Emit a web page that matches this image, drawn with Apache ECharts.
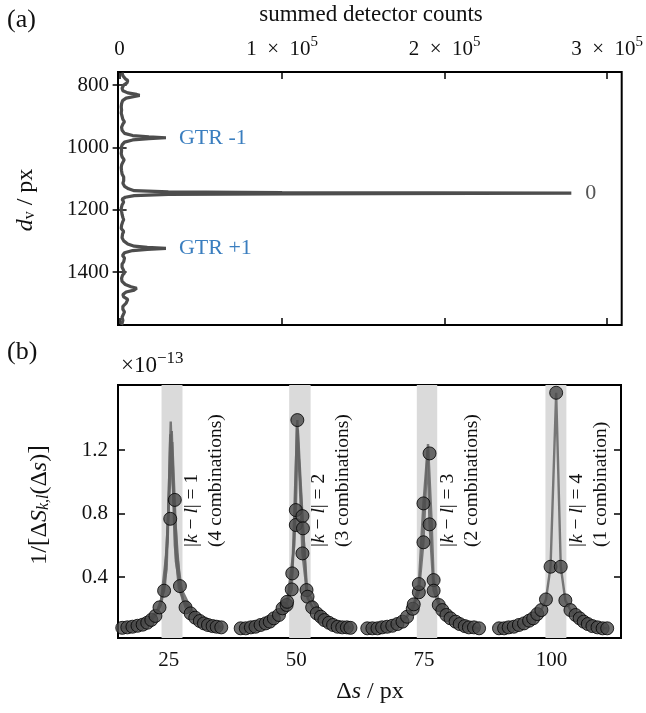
<!DOCTYPE html>
<html><head><meta charset="utf-8">
<script src="https://cdn.jsdelivr.net/npm/echarts@6/dist/echarts.min.js"></script>
<style>html,body{margin:0;padding:0;background:#fff}#c{width:646px;height:713px}</style>
</head><body><div id="c"></div>
<script>
const FONT = '"Liberation Serif", "DejaVu Serif", serif';
const INK = '#000';
const CURVE = '#4d4d4d';
const BLUE = '#3a7ebf';

// ---------- panel (a) ----------
const dvPixels = [
  760,770,780,785,789,793,800,810,818,825,
  830,833,836,842,850,860,870,880,890,900,
  910,918,925,935,945,955,962,966,969,972,
  976,983,992,1000,1010,1020,1030,1040,1046,1055,
  1065,1075,1085,1095,1101,1107,1115,1125,1133,1139,
  1143,1145,1147,1149,1151,1155,1160,1166,1175,1185,
  1195,1205,1215,1225,1232,1240,1250,1260,1270,1278,
  1290,1300,1310,1317,1321,1324,1327,1331,1338,1347,
  1355,1361,1367,1375,1385,1395,1403,1410,1420,1430,
  1440,1447,1452,1455,1458,1464,1472,1480,1488,1494,
  1500,1510,1520,1528,1534,1545,1555,1565,1570];
const summedCounts = [
  1500,2000,3500,5000,6000,4500,2500,1500,2000,5000,
  10500,12300,10000,4000,1800,1200,1000,1200,1000,1500,
  2000,3000,2000,1200,1500,3000,8000,18000,28500,18000,
  8000,3000,1500,1000,1200,1000,1500,2800,2500,1300,
  1000,1200,1500,2500,3200,2500,2000,3000,5500,9000,
  30000,100000,278000,100000,30000,9000,3500,1500,2500,1500,
  1000,1200,1500,2000,2500,1800,1200,1000,2500,1800,
  1500,2500,5000,9000,17000,28500,17000,8000,3000,1800,
  3000,4000,2500,1500,1500,2500,3000,1800,1200,1500,
  3500,7000,10500,11000,9000,4000,2000,2500,5000,6000,
  4000,2000,2000,3000,2500,1500,2000,1500,1200];
const countTicks = [0, 100000, 200000, 300000];
const dvTicks = [800, 1000, 1200, 1400];
const peakNames = ['GTR -1', '0', 'GTR +1'];
const peakCounts = [28500, 278000, 28500];
const peakDv = [969, 1147, 1324];

// ---------- panel (b) (values in units of 1e-13) ----------
const dsTicks = [25, 50, 75, 100];
const invTicks = [0.4, 0.8, 1.2];
const bandRanges = [[23.6, 27.7], [48.6, 52.8], [73.6, 77.6], [98.8, 102.9]];
const groupNames = ['1', '2', '3', '4'];
const groupCombos = ['(4 combinations)', '(3 combinations)', '(2 combinations)', '(1 combination)'];
const groupNoteDs = [31.9, 56.8, 82.1, 107.4];

const g1Ds  = [15.9,16.9,17.9,18.9,19.9,20.8,21.6,22.4,23.2,24.1,25.3,26.2,27.2,28.3,29.3,30.2,31.1,31.9,32.7,33.6,34.4,35.3];
const g1Val = [0.080,0.083,0.087,0.093,0.100,0.112,0.130,0.155,0.209,0.314,0.767,0.886,0.343,0.209,0.171,0.144,0.123,0.108,0.098,0.091,0.087,0.083];
const g2Ds  = [39.1,40.1,41.1,42.0,43.0,44.0,44.8,45.6,46.6,47.3,48.1,48.2,49.1,49.2,49.9,49.9,50.2,51.2,51.3,51.2,52.0,52.2,53.1,54.0,54.8,55.5,56.4,57.2,58.1,59.0,59.9,60.6];
const g2Val = [0.077,0.077,0.083,0.087,0.098,0.108,0.119,0.140,0.161,0.203,0.224,0.244,0.322,0.423,0.822,0.728,1.389,0.784,0.707,0.549,0.318,0.276,0.209,0.171,0.150,0.129,0.112,0.098,0.087,0.083,0.083,0.080];
const g3Ds  = [63.9,64.9,65.9,66.8,67.8,68.8,69.8,70.8,71.7,72.8,73.0,74.0,74.0,74.9,74.9,76.1,76.1,76.9,76.9,77.9,78.6,79.4,80.2,81.2,82.0,83.0,83.8,84.8,85.8];
const g3Val = [0.077,0.077,0.077,0.083,0.087,0.093,0.104,0.119,0.150,0.200,0.228,0.304,0.356,0.619,0.864,1.179,0.732,0.381,0.314,0.224,0.192,0.161,0.140,0.119,0.104,0.091,0.083,0.083,0.077];
const g4Ds  = [89.7,90.7,91.6,92.6,93.6,94.6,95.6,96.4,97.2,98.0,98.9,99.8,100.9,101.8,102.7,103.7,104.7,105.5,106.3,107.1,108.0,109.0,110.0,110.9];
const g4Val = [0.077,0.077,0.083,0.087,0.098,0.108,0.125,0.140,0.167,0.192,0.259,0.465,1.561,0.465,0.253,0.192,0.161,0.140,0.119,0.104,0.091,0.083,0.077,0.077];

// individual combination curves
const comboCurves = [
  [[15.9,.080],[19.9,.100],[22.4,.155],[23.6,.240],[24.6,.450],[25.4,1.38],[26.2,.600],[27.0,.330],[28.3,.209],[31.1,.123],[35.3,.083]],
  [[15.9,.080],[20.8,.112],[23.2,.209],[24.3,.360],[25.6,1.32],[26.4,.500],[27.4,.300],[29.3,.171],[32.7,.098],[35.3,.083]],
  [[15.9,.080],[21.6,.130],[23.4,.220],[24.8,.620],[25.3,1.30],[26.0,.880],[27.2,.343],[30.2,.144],[35.3,.083]],
  [[15.9,.080],[22.4,.155],[24.1,.314],[25.7,1.25],[26.6,.550],[27.8,.250],[31.9,.108],[35.3,.083]],
  [[39.1,.077],[44.0,.108],[47.3,.203],[48.2,.244],[49.1,.322],[50.2,1.389],[51.2,.549],[52.2,.266],[54.0,.171],[57.2,.098],[60.6,.080]],
  [[39.1,.077],[45.6,.140],[48.1,.224],[49.2,.423],[49.9,.822],[50.3,1.33],[51.2,.784],[52.0,.318],[55.5,.129],[60.6,.080]],
  [[39.1,.077],[46.6,.161],[48.2,.244],[49.6,.600],[50.1,1.36],[51.3,.707],[52.2,.276],[53.1,.209],[58.1,.087],[60.6,.080]],
  [[63.9,.077],[67.8,.087],[70.8,.119],[72.0,.170],[73.0,.228],[74.0,.356],[74.9,.864],[75.8,1.238],[76.5,.750],[76.9,.381],[78.1,.224],[80.2,.140],[83.0,.091],[85.8,.077]],
  [[63.9,.077],[68.8,.093],[71.7,.150],[72.8,.200],[74.0,.304],[74.9,.619],[75.7,1.200],[76.1,.732],[76.9,.314],[77.9,.224],[79.4,.161],[82.0,.104],[85.8,.077]]
];

// ---------- helpers ----------
function tickAxis(cfg) {
  return Object.assign({
    type: 'value', scale: true,
    axisLine: { show: false },
    splitLine: { show: false },
    axisTick: { show: true, inside: true, length: 7, lineStyle: { color: INK, width: 1.5 }, customValues: cfg.ticks },
    axisLabel: cfg.labels ? {
      show: true, customValues: cfg.ticks, fontFamily: FONT, fontSize: 21, color: '#111',
      margin: cfg.margin || 10, formatter: cfg.formatter, rich: cfg.rich
    } : { show: false }
  }, cfg.extra);
}

const sup = { fontFamily: FONT, fontSize: 15, lineHeight: 15, padding: [0, 0, 10, 0], verticalAlign: 'bottom', color: '#111' };
const base = { fontFamily: FONT, fontSize: 21, lineHeight: 25, verticalAlign: 'bottom', color: '#111' };

const pts = [];
[[g1Ds, g1Val], [g2Ds, g2Val], [g3Ds, g3Val], [g4Ds, g4Val]].forEach(function (g) {
  g[0].forEach(function (x, i) { pts.push([x, g[1][i]]); });
});
const g4Curve = g4Ds.map(function (x, i) { return [x, g4Val[i]]; });

const series = [];
series.push({
  type: 'line', xAxisIndex: 0, yAxisIndex: 0, showSymbol: false, z: 3,
  lineStyle: { color: CURVE, width: 3.2 }, itemStyle: { color: CURVE },
  data: dvPixels.map(function (d, i) { return [summedCounts[i], d]; })
});
series.push({
  type: 'line', xAxisIndex: 2, yAxisIndex: 2, data: [], z: 1,
  markArea: { silent: true, itemStyle: { color: '#dadada' },
    data: bandRanges.map(function (b) { return [{ xAxis: b[0] }, { xAxis: b[1] }]; }) }
});
comboCurves.concat([g4Curve]).forEach(function (c) {
  series.push({
    type: 'line', xAxisIndex: 2, yAxisIndex: 2, showSymbol: false, z: 2,
    lineStyle: { color: '#646464', width: 2.4, opacity: 0.85 }, data: c
  });
});
series.push({
  type: 'scatter', xAxisIndex: 2, yAxisIndex: 2, z: 4, symbolSize: 13,
  itemStyle: { color: '#4a4a4a', borderColor: '#000', borderWidth: 1 }, data: pts
});

const chart = echarts.init(document.getElementById('c'), null, { renderer: 'canvas' });
chart.setOption({
  animation: false,
  backgroundColor: '#fff',
  grid: [
    { left: 118, top: 72, width: 504, height: 253, show: true, borderColor: INK, borderWidth: 2, backgroundColor: 'transparent' },
    { left: 118, top: 385, width: 503, height: 253, show: true, borderColor: INK, borderWidth: 2, backgroundColor: 'transparent' }
  ],
  xAxis: [
    tickAxis({ ticks: countTicks, labels: true, margin: 12,
      formatter: function (v) { return v === 0 ? '{b|0}' : '{b|' + (v / 1e5) + '\u2002×\u200210}{s|5}'; },
      rich: { b: base, s: sup },
      extra: { gridIndex: 0, position: 'top', min: -1000, max: 309000 } }),
    tickAxis({ ticks: countTicks, extra: { gridIndex: 0, position: 'bottom', min: -1000, max: 309000 } }),
    tickAxis({ ticks: dsTicks, labels: true, margin: 12,
      formatter: function (v) { return String(v); },
      extra: { gridIndex: 1, position: 'bottom', min: 15.07, max: 113.6 } }),
    tickAxis({ ticks: dsTicks, extra: { gridIndex: 1, position: 'top', min: 15.07, max: 113.6 } })
  ],
  yAxis: [
    tickAxis({ ticks: dvTicks, labels: true, margin: 9,
      formatter: function (v) { return String(v); },
      extra: { gridIndex: 0, position: 'left', inverse: true, min: 758, max: 1570 } }),
    tickAxis({ ticks: dvTicks, extra: { gridIndex: 0, position: 'right', inverse: true, min: 758, max: 1570 } }),
    tickAxis({ ticks: invTicks, labels: true, margin: 10,
      formatter: function (v) { return v.toFixed(1); },
      extra: { gridIndex: 1, position: 'left', min: 0.016, max: 1.61 } }),
    tickAxis({ ticks: invTicks, extra: { gridIndex: 1, position: 'right', min: 0.016, max: 1.61 } })
  ],
  series: series
});

// ---------- text ----------
const g = [];
const txt = function (x, y, text, opts) {
  g.push(Object.assign({ type: 'text', x: x, y: y, z: 100,
    style: Object.assign({ text: text, fontFamily: FONT, fontSize: 20, fill: '#111', align: 'left', verticalAlign: 'middle' }, opts.style || {}) },
    opts.el || {}));
};
txt(7, 20, '(a)', { style: { fontSize: 26 } });
txt(371, 15, 'summed detector counts', { style: { fontSize: 23, align: 'center' } });
txt(7, 352, '(b)', { style: { fontSize: 26 } });
const supB = { fontFamily: FONT, fontSize: 17, lineHeight: 17, padding: [0, 0, 10, 0], verticalAlign: 'bottom', fill: '#111' };
const baseB = { fontFamily: FONT, fontSize: 23, lineHeight: 26, verticalAlign: 'bottom', fill: '#111' };
txt(121, 364, '{b|×10}{s|−13}', { style: { rich: { b: baseB, s: supB } } });

const subR = { fontFamily: FONT, fontSize: 16, lineHeight: 16, padding: [10, 0, 0, 0], verticalAlign: 'bottom', fill: '#111' };
const subI = Object.assign({}, subR, { fontStyle: 'italic' });
const nrm = { fontFamily: FONT, fontSize: 24, lineHeight: 27, verticalAlign: 'bottom', fill: '#111' };
const ita = Object.assign({}, nrm, { fontStyle: 'italic' });
const nrmBig = Object.assign({}, nrm, { fontSize: 26 });
txt(24, 200, '{i|d}{s|v}{n| / px}', { style: { align: 'center', rich: { i: ita, s: subR, n: nrm } }, el: { rotation: Math.PI / 2 } });
txt(38, 505, '{n|1/}{b|[}{n|Δ}{i|S}{s|k,l}{n|(Δ}{i|s}{n|)}{b|]}', { style: { align: 'center', rich: { i: ita, s: subI, n: nrm, b: nrmBig } }, el: { rotation: Math.PI / 2 } });
txt(370, 690, '{n|Δ}{i|s}{n| / px}', { style: { align: 'center', rich: { i: ita, n: nrm } } });

peakNames.forEach(function (name, i) {
  const p = chart.convertToPixel({ xAxisIndex: 0, yAxisIndex: 0 }, [peakCounts[i], peakDv[i]]);
  txt(p[0] + (i === 1 ? 14 : 13), p[1], name, { style: { fontSize: 22, fill: i === 1 ? '#555' : BLUE } });
});

const annNrm = { fontFamily: FONT, fontSize: 19.5, lineHeight: 24, fill: '#111' };
const annIta = Object.assign({}, annNrm, { fontStyle: 'italic' });
groupNames.forEach(function (n, i) {
  const p = chart.convertToPixel({ xAxisIndex: 2, yAxisIndex: 2 }, [groupNoteDs[i], 0.59]);
  txt(p[0], p[1], '{n||}{i|k}{n| − }{i|l}{n|| = ' + n + '}\n{n|' + groupCombos[i] + '}',
    { style: { align: 'left', verticalAlign: 'middle', rich: { n: annNrm, i: annIta } }, el: { rotation: Math.PI / 2 } });
});

chart.setOption({ graphic: g });
</script>
</body></html>
